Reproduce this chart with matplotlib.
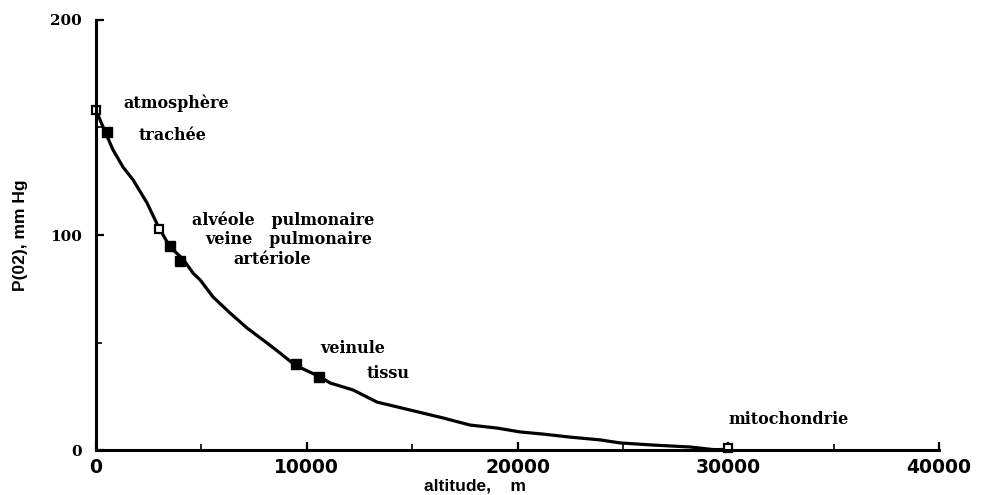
# po2 cascade plot
import matplotlib
matplotlib.use("Agg")
import matplotlib.pyplot as plt
from matplotlib.ticker import MultipleLocator

# ----------------------
# data
# ----------------------
curve_alt = [0, 430, 810, 1280, 1760, 2420, 2940, 3510, 4130, 4600, 4940, 5550,
             6360, 7170, 8110, 8730, 9440, 10630, 11100, 12200, 13330, 14900,
             16470, 17750, 19030, 20120, 21210, 22490, 23920, 24860, 26430,
             28190, 29280, 30000]
curve_p = [158, 148, 139.5, 131.6, 125.6, 114.9, 104.2, 94.4, 88.8, 82.3, 79.1,
           71.2, 63.7, 56.7, 49.8, 45.1, 39.5, 34.0, 31.2, 27.9, 22.3, 18.6,
           14.9, 11.6, 10.2, 8.4, 7.4, 6.0, 4.7, 3.3, 2.3, 1.4, 0.2, 0.2]

# compartments: name, altitude, pressure, open marker?
names = ["atmosphère", "trachée", "alvéole   pulmonaire", "veine   pulmonaire",
         "artériole", "veinule", "tissu", "mitochondrie"]
pt_alt = [0, 500, 3000, 3500, 4000, 9500, 10600, 30000]
pt_p = [158, 148, 103, 95, 88, 40, 34, 1]
hollow = [True, False, True, False, False, False, False, True]

# where the labels sit (data coords, left edge)
lab_x = [1280, 2040, 4550, 5170, 6500, 10630, 12860, 29990]
lab_y = [161.5, 146.5, 107, 98, 88.8, 47.4, 35.8, 14.4]

# ----------------------
# figure
# ----------------------
fig = plt.figure(figsize=(9.86, 4.95), dpi=100)
ax = fig.add_axes([0.0974, 0.0909, 0.855, 0.8687])

ax.plot(curve_alt, curve_p, color="black", lw=2.3, solid_joinstyle="round")

for a, p, h in zip(pt_alt, pt_p, hollow):
    if h:
        ax.plot(a, p, "s", ms=6, mfc="white", mec="black", mew=1.6, clip_on=False)
    else:
        ax.plot(a, p, "s", ms=6.5, color="black", clip_on=False)

for n, x, y in zip(names, lab_x, lab_y):
    ax.text(x, y, n, family="DejaVu Serif", weight="bold", fontsize=11.5,
            va="center", ha="left")

ax.set_xlim(0, 40000)
ax.set_ylim(0, 200)

# axes look: just left + bottom, thick
for s in ["top", "right"]:
    ax.spines[s].set_visible(False)
for s in ["left", "bottom"]:
    ax.spines[s].set_linewidth(2.2)

ax.xaxis.set_major_locator(MultipleLocator(10000))
ax.xaxis.set_minor_locator(MultipleLocator(5000))
ax.yaxis.set_major_locator(MultipleLocator(100))
ax.yaxis.set_minor_locator(MultipleLocator(50))
ax.tick_params(which="major", direction="in", length=6, width=1.6, pad=6)
ax.tick_params(which="minor", direction="in", length=4, width=1.2)

ax.set_xticks([0, 10000, 20000, 30000, 40000])
ax.set_xticklabels(["0", "10000", "20000", "30000", "40000"],
                   family="DejaVu Sans", weight="bold", fontsize=13.5)
ax.set_yticks([0, 100, 200])
ax.set_yticklabels(["0", "100", "200"], family="DejaVu Serif",
                   weight="bold", fontsize=11)
ax.tick_params(axis="y", pad=10)

fig.text(0.021, 0.525, "P(02), mm Hg", rotation=90, ha="center", va="center",
         family="Liberation Sans", weight="bold", fontsize=12.5)
fig.text(0.482, 0.018, "altitude,    m", ha="center", va="center",
         family="Liberation Sans", weight="bold", fontsize=12.5)

fig.savefig("out.png", dpi=100)
